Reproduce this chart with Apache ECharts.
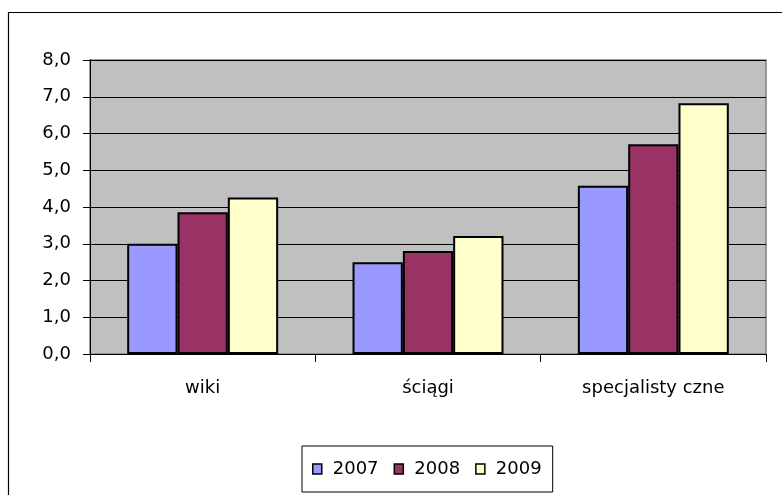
<!DOCTYPE html>
<html>
<head>
<meta charset="utf-8">
<style>
  html, body { margin: 0; padding: 0; background: #ffffff; }
  #chart { width: 782px; height: 495px; }
</style>
<script src="https://cdn.jsdelivr.net/npm/echarts@6/dist/echarts.min.js"></script>
</head>
<body>
<div id="chart"></div>
<script>
// Categories and yearly values
const categories = ['wiki', 'ściągi', 'specjalisty czne'];
const years = ['2007', '2008', '2009'];
const values2007 = [3.0, 2.5, 4.58];
const values2008 = [3.86, 2.8, 5.71];
const values2009 = [4.26, 3.21, 6.82];
const yearColors = ['#9999FF', '#993366', '#FFFFCC'];

const FONT = 'DejaVu Sans';
const chart = echarts.init(document.getElementById('chart'), null, { renderer: 'canvas' });

const seriesValues = [values2007, values2008, values2009];
const series = years.map((name, i) => ({
  name: name,
  type: 'bar',
  data: seriesValues[i],
  barGap: '0%',
  barCategoryGap: '33%',
  itemStyle: { color: yearColors[i], borderColor: '#000000', borderWidth: 2 },
  emphasis: { disabled: true },
  animation: false
}));

chart.setOption({
  animation: false,
  backgroundColor: '#ffffff',
  graphic: [{
    type: 'rect',
    shape: { x: 8.5, y: 12.5, width: 800, height: 500 },
    style: { fill: 'none', stroke: '#000000', lineWidth: 1.2 },
    silent: true,
    z: 100
  }],
  grid: {
    left: 90, right: 16, top: 60, bottom: 141,
    show: true,
    backgroundColor: '#C0C0C0',
    borderColor: '#808080',
    borderWidth: 1.5
  },
  legend: {
    data: years,
    left: 302, top: 446,
    orient: 'horizontal',
    icon: 'rect',
    itemWidth: 9, itemHeight: 10,
    itemGap: 15,
    padding: [14, 11, 14, 10],
    borderColor: '#000000',
    borderWidth: 1,
    itemStyle: { borderColor: '#000000', borderWidth: 1.5 },
    textStyle: { fontFamily: FONT, fontSize: 18, color: '#000000', padding: [0, 0, 0, 6] },
    selectedMode: false
  },
  xAxis: {
    type: 'category',
    data: categories,
    axisLine: { show: true, lineStyle: { color: '#000000', width: 1 } },
    axisTick: { show: true, length: 8, lineStyle: { color: '#000000' } },
    axisLabel: { fontFamily: FONT, fontSize: 18, color: '#000000', margin: 25 },
    splitLine: { show: false }
  },
  yAxis: {
    type: 'value',
    min: 0, max: 8, interval: 1,
    axisLine: { show: true, lineStyle: { color: '#000000', width: 1 } },
    axisTick: { show: true, length: 7, lineStyle: { color: '#000000' } },
    axisLabel: {
      fontFamily: FONT, fontSize: 18, color: '#000000', margin: 19,
      formatter: v => v.toFixed(1).replace('.', ',')
    },
    splitLine: { show: true, lineStyle: { color: '#000000', width: 1 } }
  },
  series: series
});
</script>
</body>
</html>
